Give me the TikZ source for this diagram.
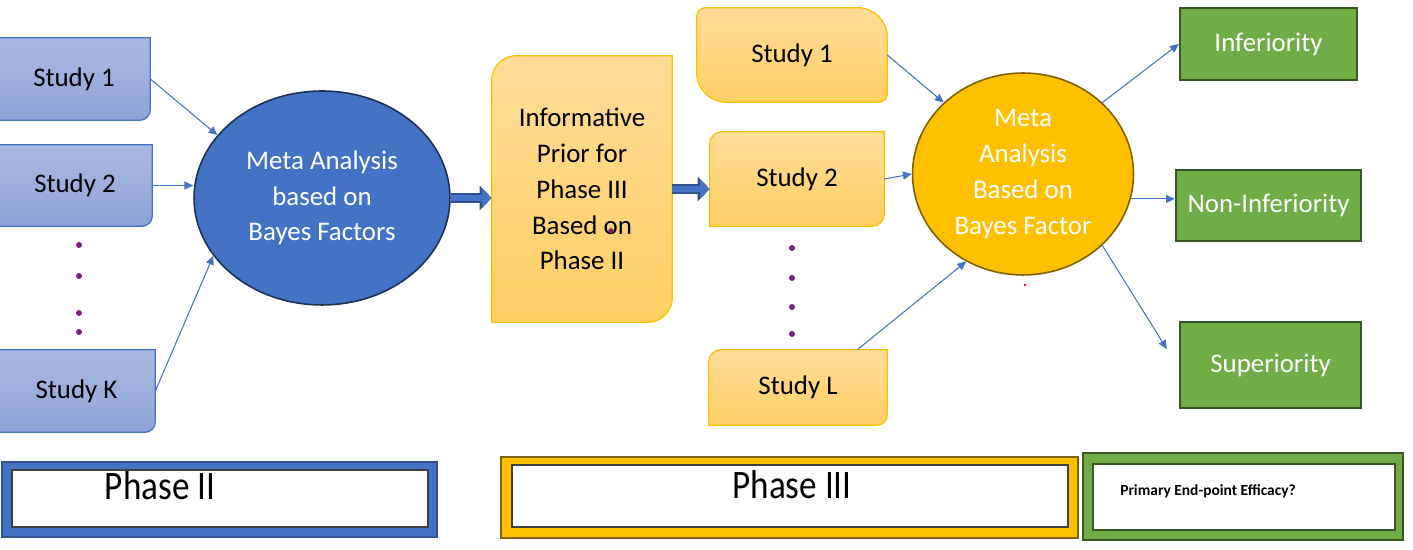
\documentclass[tikz,border=0pt]{standalone}
\usepackage{fontspec}
\setmainfont{Carlito}
\definecolor{phaseblue}{HTML}{4472C4}
\definecolor{phasenavy}{HTML}{2F528F}
\definecolor{studytop}{HTML}{AAB9E2}
\definecolor{studybot}{HTML}{8DA3D7}
\definecolor{priortop}{HTML}{FFDC99}
\definecolor{priorbot}{HTML}{FFCF63}
\definecolor{gold}{HTML}{FFC000}
\definecolor{golddark}{HTML}{7F6000}
\definecolor{leafgreen}{HTML}{70AD47}
\definecolor{leafdark}{HTML}{385723}
\definecolor{dotpurple}{HTML}{7A1F7A}
\usetikzlibrary{arrows.meta,positioning,shapes.geometric}
\pgfdeclarelayer{bg}
\pgfsetlayers{bg,main}

\tikzset{
  txt/.style={font=\fontsize{15.3}{20.4}\selectfont, align=center, inner sep=0pt},
  slot/.style={txt, rectangle, minimum width=#1},
  metanode/.style={txt, ellipse, text=white, line width=0.9pt},
  verdict/.style={txt, rectangle, fill=leafgreen, draw=leafdark, line width=1.4pt, text=white},
  bluefill/.style={top color=studytop, bottom color=studybot, draw=phaseblue, line width=0.7pt},
  goldfill/.style={top color=priortop, bottom color=priorbot, draw=gold, line width=0.7pt},
  cornerbox/.style n args={5}{insert path={
    ([xshift=#2]#1.north west) -- ([xshift=-#3]#1.north east)
    arc[start angle=90,end angle=0,radius=#3] -- ([yshift=#4]#1.south east)
    arc[start angle=0,end angle=-90,radius=#4] -- ([xshift=#5]#1.south west)
    arc[start angle=-90,end angle=-180,radius=#5] -- ([yshift=-#2]#1.north west)
    arc[start angle=180,end angle=90,radius=#2] -- cycle}},
  link/.style={draw=phaseblue, line width=0.6pt, -{Triangle[length=5pt,width=4.5pt]}},
  bigarrow/.style={draw=phaseblue, line width=3.8pt, -{Triangle[length=5.5pt,width=11pt]},
    preaction={draw=phasenavy, line width=5.2pt, -{Triangle[length=6.8pt,width=13.6pt]}}},
  frame/.style={rectangle, inner sep=0pt},
  barlabel/.style={inner sep=0pt, font=\fontsize{20}{24}\selectfont, yscale=1.15, transform shape},
}

\begin{document}
\begin{tikzpicture}[x=0.02cm,y=0.02cm]
\useasboundingbox (0,0) rectangle (1413,550);

% phase II studies
\node[slot=3.04cm, minimum height=1.64cm] (lsA) at (74,471) {Study 1};
\node[slot=3.08cm, minimum height=1.62cm] (lsB) at (75,364.5) {Study 2};
\node[slot=3.14cm, minimum height=1.64cm] (lsK) at (76.5,159) {Study K};
\foreach \y in {305,274,237,218}
  \fill[dotpurple] (79,\y) circle[radius=1.7pt];

\node[metanode, fill=phaseblue, draw=phasenavy!60!black, minimum width=5.12cm, minimum height=4.28cm]
  (metaB) at (322,352) {Meta Analysis\\based on\\Bayes Factors};

% prior
\node[slot=3.6cm, minimum height=5.32cm] (prior) at (582,361)
  {Informative\\Prior for\\Phase III\\Based on\\Phase II};
\fill[dotpurple] (611,319) circle[radius=1.6pt];

% phase III studies
\node[slot=3.8cm, minimum height=1.88cm] (rsA) at (792,495) {Study 1};
\node[slot=3.48cm, minimum height=1.88cm] (rsB) at (797,371) {Study 2};
\node[slot=3.56cm, minimum height=1.5cm] (rsL) at (798,162.5) {Study L};
\foreach \y in {302,272,243,216}
  \fill[dotpurple] (792,\y) circle[radius=1.7pt];

\node[metanode, fill=gold, draw=golddark, minimum width=4.42cm, minimum height=4.04cm]
  (metaG) at (1023,376) {Meta\\Analysis\\Based on\\Bayes Factor};
\fill[red] (1025,265) circle[radius=0.8pt];

% outcomes
\node[verdict, minimum width=3.54cm, minimum height=1.44cm] (inf) at (1268.5,506) {Inferiority};
\node[verdict, minimum width=3.7cm, minimum height=1.42cm] (noninf) at (1268.5,344.5) {Non-Inferiority};
\node[verdict, minimum width=3.62cm, minimum height=1.72cm] (sup) at (1270.5,185) {Superiority};

\begin{pgfonlayer}{bg}
\path[bluefill, cornerbox={lsA}{0.01pt}{0.01pt}{6pt}{0.01pt}];
\path[bluefill, cornerbox={lsB}{0.01pt}{0.01pt}{6pt}{0.01pt}];
\path[bluefill, cornerbox={lsK}{0.01pt}{0.01pt}{6pt}{0.01pt}];
\path[goldfill, cornerbox={prior}{14pt}{0.01pt}{14pt}{0.01pt}];
\path[goldfill, cornerbox={rsA}{5pt}{17pt}{5pt}{17pt}];
\path[goldfill, cornerbox={rsB}{7pt}{0.01pt}{7pt}{0.01pt}];
\path[goldfill, cornerbox={rsL}{7pt}{0.01pt}{6pt}{0.01pt}];
\end{pgfonlayer}

% connectors
\draw[link] (lsA.east) -- (metaB.149);
\draw[link] (lsB.east) -- (lsB.east -| metaB.west);
\draw[link] (lsK.east) -- (metaB.208);
\draw[bigarrow] (metaB.east) -- (metaB.east -| prior.west);
\draw[bigarrow] (prior.east) -- (prior.east -| rsB.west);
\draw[link] (rsA.east) -- (metaG.138);
\draw[link] (rsB.east) -- (metaG.west);
\draw[link] ([xshift=-0.6cm]rsL.north east) -- (metaG.237);
\draw[link] (metaG.42) -- (inf.west);
\draw[link] (metaG.347) -- (metaG.347 -| noninf.west);
\draw[link] (metaG.318) -- ([shift={(-0.24cm,0.32cm)}]sup.west);

% phase bars
\node[frame, fill=phaseblue, draw=phasenavy, line width=0.8pt, minimum width=8.7cm, minimum height=1.5cm] (barII) at (219.5,50.5) {};
\node[frame, fill=white, draw=black!75, line width=0.8pt, minimum width=8.32cm, minimum height=1.14cm] (barIIin) at (220,51.5) {};
\node[barlabel] (labII) at (160,64) {Phase II};

\node[frame, fill=gold, draw=golddark, line width=0.8pt, minimum width=11.54cm, minimum height=1.62cm] (barIII) at (789.5,52.5) {};
\node[frame, fill=white, draw=black!75, line width=0.8pt, minimum width=11.12cm, minimum height=1.24cm] (barIIIin) at (790,54) {};
\node[barlabel] (labIII) at (792,65) {Phase III};

\node[frame, fill=leafgreen, draw=leafdark, line width=1.2pt, minimum width=6.4cm, minimum height=1.74cm] (barEff) at (1243,53.5) {};
\node[frame, fill=white, draw=leafdark, line width=0.8pt, minimum width=6.04cm, minimum height=1.32cm] (barEffin) at (1244,53) {};
\node[inner sep=0pt, font=\fontsize{8.8}{10}\selectfont\bfseries] (labEff) at (1208,59) {Primary End-point Efficacy?};
\end{tikzpicture}
\end{document}
